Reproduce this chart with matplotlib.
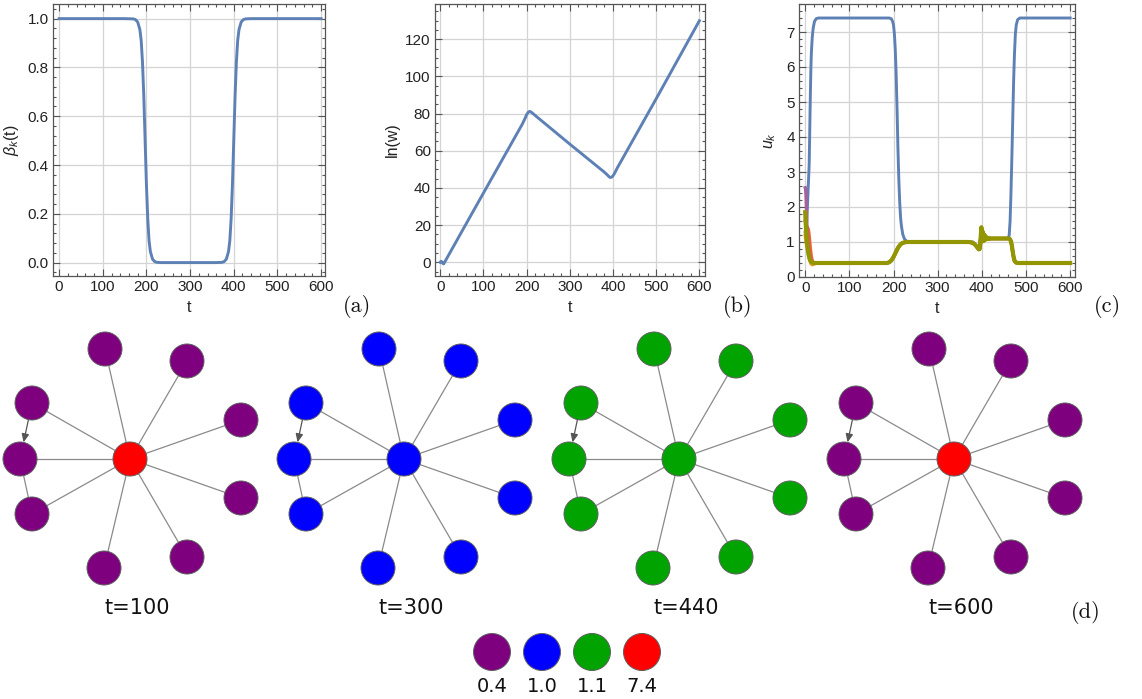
import numpy as np
import matplotlib
matplotlib.use("Agg")
import matplotlib.pyplot as plt
from matplotlib.patches import Circle, FancyArrowPatch
from matplotlib.ticker import MultipleLocator, AutoMinorLocator, FormatStrFormatter

plt.rcParams['mathtext.fontset'] = 'custom'
plt.rcParams['mathtext.rm'] = 'Liberation Sans'
plt.rcParams['mathtext.it'] = 'Liberation Sans:italic'
plt.rcParams['mathtext.bf'] = 'Liberation Sans:bold'

# ---------------- data ----------------
# (a) beta_k(t)
beta_t = [0, 150, 170, 175, 180, 185, 188, 191, 194, 197, 200, 203, 206, 209, 214, 219, 224, 235,
          360, 373, 378, 383, 388, 391, 394, 397, 400, 403, 406, 409, 412, 417, 422, 427, 440, 600]
beta_v = [1, 1, 0.999, 0.996, 0.986, 0.955, 0.91, 0.82, 0.68, 0.5, 0.32, 0.18, 0.09, 0.045, 0.014, 0.004, 0.001, 0.0,
          0.0, 0.001, 0.004, 0.014, 0.045, 0.09, 0.18, 0.32, 0.5, 0.68, 0.82, 0.91, 0.955, 0.986, 0.996, 0.999, 1, 1]

# (b) ln(w)
lnw_t = [0, 2, 4, 6, 8, 10, 50, 100, 150, 190, 196, 200, 204, 207, 210, 215, 222, 300, 380, 387, 391, 394,
         397, 400, 404, 410, 420, 500, 600]
lnw_v = [0, 0.5, 0.2, -0.6, -0.9, -0.1, 16.5, 37.2, 57.8, 74.3, 77.2, 79.4, 80.8, 81.2, 80.9, 80.0, 78.6, 63.6,
         48.5, 47.0, 46.0, 45.6, 45.8, 46.5, 48.0, 50.8, 54.9, 88.0, 130.0]

# (c) u_k : hub node
hub_t = [0, 3, 5, 7, 9, 10, 11, 12, 13, 14, 16, 18, 21, 25, 30, 190, 195, 198, 200, 202, 204, 206, 208, 210,
         212, 214, 216, 218, 221, 225, 230, 240, 380, 390, 394, 398, 400, 405, 410, 460, 462, 464, 466, 468,
         470, 472, 474, 476, 478, 481, 486, 600]
hub_u = [1.3, 1.5, 2.0, 2.6, 3.2, 3.9, 4.7, 5.4, 6.0, 6.4, 6.85, 7.1, 7.3, 7.38, 7.4, 7.4, 7.38, 7.3, 7.2, 6.95,
         6.5, 5.8, 4.8, 3.7, 2.8, 2.15, 1.7, 1.45, 1.22, 1.08, 1.02, 1.0, 1.0, 0.85, 0.8, 1.2, 1.3, 1.15, 1.1,
         1.1, 1.2, 1.6, 2.4, 3.4, 4.5, 5.6, 6.4, 6.95, 7.2, 7.35, 7.4, 7.4]

# (c) u_k : leaf nodes (common trajectory after the initial transient)
leaf_t = [30, 185, 190, 195, 200, 205, 210, 215, 220, 225, 230, 240, 370, 375, 380, 385, 390, 393, 395, 396.5,
          398, 399, 400, 401, 402, 403, 404, 405, 406, 407, 408, 409, 410, 412, 414, 416, 418, 420, 425, 460,
          463, 466, 468, 470, 472, 474, 476, 478, 482, 490, 600]
leaf_u = [0.4, 0.4, 0.42, 0.47, 0.57, 0.7, 0.83, 0.92, 0.97, 0.99, 1.0, 1.0, 1.0, 0.99, 0.97, 0.92, 0.84, 0.79,
          0.8, 0.95, 1.25, 1.42, 1.1, 1.32, 1.02, 1.26, 1.04, 1.21, 1.05, 1.18, 1.07, 1.15, 1.08, 1.12, 1.09,
          1.11, 1.095, 1.1, 1.1, 1.1, 1.09, 1.02, 0.9, 0.72, 0.57, 0.47, 0.43, 0.41, 0.4, 0.4, 0.4]

# initial transients of individual leaves
orange_t0 = [0, 2, 4, 6, 8, 10, 13, 16, 20, 26]
orange_u0 = [1.2, 1.0, 0.85, 0.75, 0.6, 0.48, 0.38, 0.35, 0.37, 0.4]
red_t0 = [0, 3, 6, 8, 10, 12, 14, 16, 19, 24]
red_u0 = [1.6, 1.45, 1.4, 1.3, 1.05, 0.78, 0.58, 0.47, 0.41, 0.39]
magenta_t0 = [0, 1, 2, 3, 4, 5, 7, 10, 14, 20]
magenta_u0 = [2.55, 2.5, 2.3, 1.9, 1.4, 1.1, 0.8, 0.55, 0.43, 0.4]
olive_t0 = [0, 1, 2, 3, 4, 5, 6, 8, 10, 12, 15, 20]
olive_u0 = [1.85, 1.6, 1.35, 1.15, 1.0, 0.88, 0.78, 0.62, 0.52, 0.46, 0.42, 0.4]

# (d) network snapshots
snap_labels = ["t=100", "t=300", "t=440", "t=600"]
snap_hub = [7.4, 1.0, 1.1, 7.4]
snap_leaf = [0.4, 1.0, 1.1, 0.4]
legend_values = ["0.4", "1.0", "1.1", "7.4"]
value_colors = {"0.4": "#7f007f", "1.0": "#0000ff", "1.1": "#00a300", "7.4": "#ff0000"}

# layout (pixel offsets from the hub), leaves: top, top-right, right-up, right-down,
# bottom-right, bottom, left-down, left, left-up
layout = [(0, 0), (-25, -110), (57, -98), (111, -39), (111, 39), (57, 98), (-26, 109), (-98, 55), (-110, 0), (-98, -56)]
undirected = [(0, k) for k in range(1, 10)] + [(8, 7)]
directed = [(9, 8)]
hub_x = [130, 404, 679, 954]
hub_y = 459
node_r = 17

# ---------------- figure ----------------
W, H = 1142, 699
fig = plt.figure(figsize=(W / 100, H / 100), dpi=100)

def px_axes(l, r, t, b):
    return fig.add_axes([l / W, 1 - b / H, (r - l) / W, (b - t) / H])

LINE = "#5e81b5"
LABFONT = dict(family="Liberation Sans", size=11.5)

def style(ax, xlim, ylim, ymaj, ynminor):
    ax.set_xlim(*xlim)
    ax.set_ylim(*ylim)
    ax.xaxis.set_major_locator(MultipleLocator(100))
    ax.xaxis.set_minor_locator(AutoMinorLocator(5))
    ax.yaxis.set_major_locator(MultipleLocator(ymaj))
    ax.yaxis.set_minor_locator(AutoMinorLocator(ynminor))
    ax.tick_params(which="both", direction="in", top=True, right=True, color="#555555", width=0.8)
    ax.tick_params(which="major", length=5)
    ax.tick_params(which="minor", length=2.5)
    ax.tick_params(labelsize=11, labelcolor="#222222", pad=3)
    ax.grid(True, which="major", color="#d4d4d4", lw=0.9)
    ax.set_axisbelow(True)
    for s in ax.spines.values():
        s.set_color("#555555")
        s.set_linewidth(0.9)
    ax.set_xlabel("t", fontdict=LABFONT, color="#222222", labelpad=4)

# (a)
axa = px_axes(53, 325, 4, 276)
axa.plot(beta_t, beta_v, color=LINE, lw=2.1)
style(axa, (-14, 609), (-0.055, 1.06), 0.2, 5)
axa.set_ylabel(r"$\beta_k$(t)", fontdict=LABFONT, color="#222222", labelpad=5)
axa.yaxis.set_major_formatter(FormatStrFormatter("%.1f"))

# (b)
axb = px_axes(435, 705, 4, 276)
axb.plot(lnw_t, lnw_v, color=LINE, lw=2.1)
style(axb, (-12, 613), (-7.4, 139), 20, 4)
axb.set_ylabel("ln(w)", fontdict=LABFONT, color="#222222", labelpad=4)

# (c)
axc = px_axes(799, 1075, 4, 277)
axc.plot(hub_t, hub_u, color=LINE, lw=2.1)
for t0, u0, col in [(orange_t0, orange_u0, "#e19c24"), (red_t0, red_u0, "#eb6235"),
                    (magenta_t0, magenta_u0, "#a5609d"), (olive_t0, olive_u0, "#929600")]:
    axc.plot(list(t0) + list(leaf_t), list(u0) + list(leaf_u), color=col,
             lw=2.4 if col != "#929600" else 3.0)
style(axc, (-14, 611), (0, 7.8), 1, 5)
axc.set_ylabel(r"$u_k$", fontdict=LABFONT, color="#222222", labelpad=6)

for ax in (axa, axb, axc):
    for lab in ax.get_xticklabels() + ax.get_yticklabels():
        lab.set_family("Liberation Sans")

# ---------------- network panel ----------------
axn = fig.add_axes([0, 0, 1, 1], zorder=-1)
axn.set_xlim(0, W)
axn.set_ylim(H, 0)
axn.axis("off")

def color_of(v):
    return value_colors["%.1f" % v]

for i, hx in enumerate(hub_x):
    pos = [(hx + dx, hub_y + dy) for dx, dy in layout]
    for a, b in undirected:
        axn.plot([pos[a][0], pos[b][0]], [pos[a][1], pos[b][1]], color="#8a8a8a", lw=0.9, zorder=1)
    for a, b in directed:
        arr = FancyArrowPatch(pos[a], pos[b], arrowstyle="-|>,head_length=5,head_width=2.2",
                              shrinkA=0, shrinkB=node_r * 0.72, color="#555555", lw=0.9, zorder=1)
        axn.add_patch(arr)
    for k, (x, y) in enumerate(pos):
        v = snap_hub[i] if k == 0 else snap_leaf[i]
        axn.add_patch(Circle((x, y), node_r, facecolor=color_of(v), edgecolor="#606060", lw=0.7, zorder=2))
    axn.text(hx + 7, 608, snap_labels[i], ha="center", va="center", fontsize=15,
             family="DejaVu Sans", color="#111111")

# legend
for j, lv in enumerate(legend_values):
    lx = 492 + 50 * j
    axn.add_patch(Circle((lx, 652), 18.5, facecolor=value_colors[lv], edgecolor="#606060", lw=0.7))
    axn.text(lx, 686, lv, ha="center", va="center", fontsize=14, family="DejaVu Sans", color="#111111")

# panel letters (Computer Modern roman)
for txt, x, y in [("(a)", 357, 307), ("(b)", 738, 307), ("(c)", 1107, 307), ("(d)", 1086, 612)]:
    axn.text(x, y, txt, ha="center", va="center", fontsize=16, family="cmr10", color="#111111")

fig.savefig("out.png", dpi=100)
